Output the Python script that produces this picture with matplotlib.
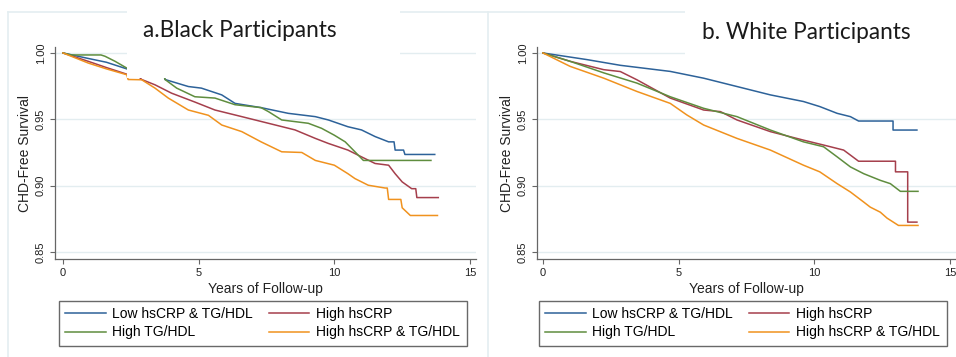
import matplotlib
matplotlib.use("Agg")
import matplotlib.pyplot as plt
from matplotlib.patches import Rectangle
from matplotlib.lines import Line2D

# Kaplan-Meier readings (years, survival)
groups = ["Low hsCRP & TG/HDL", "High hsCRP", "High TG/HDL", "High hsCRP & TG/HDL"]

# a. Black participants (2.4-3.7 y is hidden under the title box in the original)
blk_low_t = [0, 0.9, 1.6, 2.35, 3.7, 3.76, 4.62, 5.1, 5.85, 6.34, 7.3, 8.3, 9.3, 9.78, 10.5, 11.0, 11.5, 12.0, 12.2, 12.24, 12.55, 12.6, 13.7]
blk_low_s = [1.0, 0.996, 0.993, 0.988, 0.985, 0.980, 0.9747, 0.9735, 0.9684, 0.962, 0.9588, 0.9545, 0.952, 0.9495, 0.9444, 0.942, 0.937, 0.933, 0.933, 0.9268, 0.9268, 0.9235, 0.9235]
blk_crp_t = [0, 0.93, 1.6, 2.35, 2.8, 2.9, 3.39, 4.0, 4.86, 5.6, 6.59, 7.57, 8.55, 9.3, 9.78, 10.5, 11.0, 11.5, 12.0, 12.24, 12.5, 12.85, 13.0, 13.04, 13.83]
blk_crp_s = [1.0, 0.9937, 0.989, 0.984, 0.982, 0.980, 0.976, 0.9697, 0.963, 0.957, 0.952, 0.947, 0.942, 0.9356, 0.9318, 0.9268, 0.9217, 0.9167, 0.9154, 0.909, 0.9028, 0.8977, 0.8977, 0.891, 0.891]
blk_tg_t = [0, 0.3, 1.4, 1.55, 1.92, 2.35, 3.7, 3.76, 4.19, 4.86, 5.6, 6.34, 7.3, 7.57, 8.06, 9.04, 9.53, 10.0, 10.4, 10.76, 11.07, 13.56]
blk_tg_s = [1.0, 0.9985, 0.9985, 0.9975, 0.9937, 0.9886, 0.985, 0.980, 0.9735, 0.967, 0.966, 0.961, 0.9588, 0.9558, 0.9495, 0.947, 0.9432, 0.938, 0.933, 0.9255, 0.919, 0.919]
blk_both_t = [0, 0.93, 1.6, 2.35, 2.4, 2.9, 3.39, 3.88, 4.62, 5.36, 5.85, 6.59, 7.3, 8.06, 8.8, 9.3, 10.0, 10.5, 10.76, 11.25, 11.87, 11.95, 12.0, 12.45, 12.5, 12.8, 13.8]
blk_both_s = [1.0, 0.9924, 0.988, 0.9836, 0.980, 0.9798, 0.9735, 0.966, 0.957, 0.953, 0.9457, 0.9407, 0.933, 0.9255, 0.925, 0.919, 0.9154, 0.909, 0.9053, 0.9003, 0.8982, 0.8982, 0.8896, 0.8896, 0.8833, 0.8775, 0.8775]

# b. White participants
wht_low_t = [0, 1.62, 2.85, 4.69, 5.92, 7.15, 8.38, 9.6, 10.2, 10.84, 11.33, 11.63, 12.9, 12.9, 13.78]
wht_low_s = [1.0, 0.995, 0.9907, 0.9861, 0.981, 0.9747, 0.9684, 0.9634, 0.9596, 0.9545, 0.952, 0.9487, 0.9487, 0.9419, 0.9419]
wht_crp_t = [0, 1.0, 2.24, 2.85, 3.46, 4.69, 5.92, 6.54, 7.15, 8.38, 9.6, 10.34, 11.08, 11.33, 11.63, 12.99, 12.99, 13.44, 13.44, 13.78]
wht_crp_s = [1.0, 0.9937, 0.9874, 0.986, 0.9798, 0.966, 0.957, 0.9558, 0.9495, 0.9407, 0.9343, 0.9306, 0.9268, 0.923, 0.9184, 0.9184, 0.9104, 0.9104, 0.8725, 0.8725]
wht_tg_t = [0, 1.0, 2.24, 3.46, 4.69, 5.92, 7.15, 8.38, 9.6, 10.34, 10.84, 11.33, 11.82, 12.43, 12.8, 13.17, 13.82]
wht_tg_s = [1.0, 0.9937, 0.985, 0.9773, 0.967, 0.9583, 0.952, 0.9419, 0.933, 0.9293, 0.9217, 0.9141, 0.909, 0.904, 0.9015, 0.8957, 0.8957]
wht_both_t = [0, 1.0, 2.24, 3.46, 4.69, 5.3, 5.92, 7.15, 8.38, 9.6, 10.2, 10.84, 11.33, 11.82, 12.06, 12.43, 12.68, 13.1, 13.82]
wht_both_s = [1.0, 0.9899, 0.981, 0.971, 0.962, 0.9533, 0.9457, 0.9356, 0.9268, 0.9154, 0.9104, 0.9015, 0.8952, 0.8876, 0.8838, 0.88, 0.8755, 0.87, 0.87]

colors = ["#2d6299", "#a53f4c", "#5f8d3e", "#f0921e"]

W, H = 956, 357
def fx(px):
    return px / W
def fy(py):
    return 1 - py / H

plt.rcParams['font.family'] = ['Liberation Sans', 'DejaVu Sans']
fig = plt.figure(figsize=(W / 100, H / 100), dpi=100)

panels = [
    dict(left=55, right=476, xmin=-0.295, title="a.Black Participants", tx=240, ty=37,
         box=(127, 400, 78), leg_x=59,
         curves=[(blk_low_t, blk_low_s), (blk_crp_t, blk_crp_s), (blk_tg_t, blk_tg_s), (blk_both_t, blk_both_s)]),
    dict(left=537, right=956, xmin=-0.22, title="b. White Participants", tx=806, ty=39,
         box=(685, 956, 62), leg_x=539,
         curves=[(wht_low_t, wht_low_s), (wht_crp_t, wht_crp_s), (wht_tg_t, wht_tg_s), (wht_both_t, wht_both_s)]),
]

# panel frames of the pasted images
frame_c = "#e4eef1"
fig.add_artist(Line2D([fx(8), fx(956)], [fy(12), fy(12)], color=frame_c, lw=1.2, zorder=0.5))
fig.add_artist(Line2D([fx(8), fx(8)], [fy(12), fy(357)], color=frame_c, lw=1.2, zorder=0.5))
fig.add_artist(Line2D([fx(488), fx(488)], [fy(12), fy(357)], color=frame_c, lw=1.2, zorder=0.5))

for p in panels:
    ax = fig.add_axes([fx(p['left']), fy(259), (p['right'] - p['left']) / W, 212 / H])
    lines = []
    for (t, s), c, lab in zip(p['curves'], colors, groups):
        ln, = ax.plot(t, s, color=c, lw=1.1, label=lab)
        lines.append(ln)
    ax.set_xlim(p['xmin'], 15.22)
    ax.set_ylim(0.8447, 1.0045)
    ax.set_xticks([0, 5, 10, 15])
    ax.set_yticks([0.85, 0.90, 0.95, 1.00])
    ax.set_yticklabels(["0.85", "0.90", "0.95", "1.00"], rotation=90, va='center')
    ax.grid(axis='y', color='#e3edf0', lw=1.0)
    ax.set_axisbelow(True)
    for sp in ['top', 'right']:
        ax.spines[sp].set_visible(False)
    for sp in ['left', 'bottom']:
        ax.spines[sp].set_color('#666666')
        ax.spines[sp].set_linewidth(0.9)
    ax.tick_params(length=3.5, width=0.8, color='#666666', labelsize=8, labelcolor='#222222', pad=3)
    ax.set_xlabel("Years of Follow-up", fontsize=10, labelpad=3, color='#222222')
    ax.set_ylabel("CHD-Free Survival", fontsize=10, labelpad=3, color='#222222')
    # column-wise fill: Low, High TG/HDL | High hsCRP, both
    order = [0, 2, 1, 3]
    leg = ax.legend([lines[i] for i in order], [groups[i] for i in order],
                    loc='upper left', bbox_to_anchor=(fx(p['leg_x']), fy(301)), bbox_transform=fig.transFigure,
                    ncol=2, fontsize=10, frameon=True, fancybox=False, borderaxespad=0,
                    handlelength=2.9, handletextpad=0.5, columnspacing=1.15, labelspacing=0.3,
                    borderpad=0.45)
    leg.get_frame().set_edgecolor('#444444')
    leg.get_frame().set_linewidth(1.0)

    # white title box pasted over the plot
    x0, x1, yb = p['box']
    fig.add_artist(Rectangle((fx(x0), fy(yb)), (x1 - x0) / W, yb / H, transform=fig.transFigure,
                             facecolor='white', edgecolor='none', zorder=2))
    fig.text(fx(p['tx']), fy(p['ty']), p['title'], ha='center', va='baseline',
             fontsize=16.3, family=['Lato', 'DejaVu Sans'], color='#1a1a1a', zorder=3)

fig.savefig("out.png", dpi=100)
